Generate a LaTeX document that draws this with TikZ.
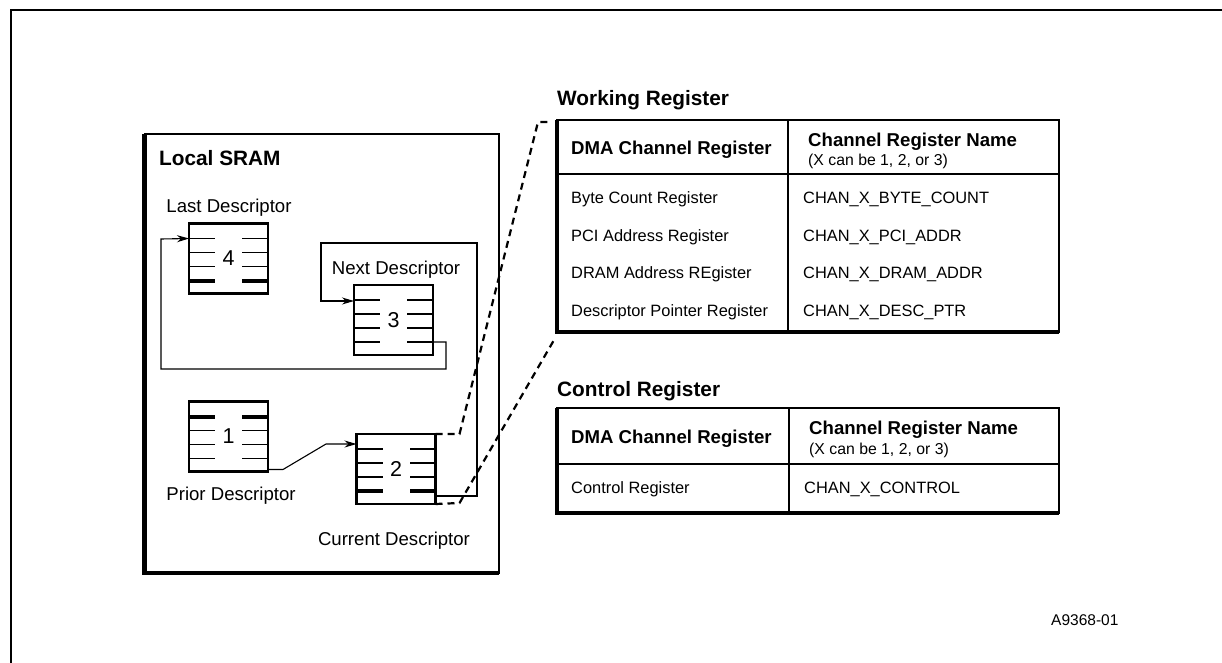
\documentclass[tikz,border=0pt]{standalone}
\usepackage{fontspec}
\setmainfont{Liberation Sans}
\usetikzlibrary{arrows.meta}
\newcommand\descrows[1]{%
  \foreach \yy in {15,29,43,57}{%
    \draw[tick] ([yshift=-\yy pt]#1.north west) -- ++(26,0)
                ([yshift=-\yy pt]#1.north east) -- ++(-26,0);}}
\newcommand\descthick[2]{%
  \draw[thicktick] ([yshift=-#2 pt]#1.north west) -- ++(26,0)
                   ([yshift=-#2 pt]#1.north east) -- ++(-26,0);}
\begin{document}
\begin{tikzpicture}[x=1pt,y=-1pt,
  frame/.style={line width=1.8pt},
  desc/.style={draw, line width=2.2pt, minimum width=79pt, minimum height=70pt,
    inner sep=0pt, outer sep=0pt, font=\fontsize{21.5}{22}\selectfont},
  tick/.style={line width=1.8pt},
  thicktick/.style={line width=4pt},
  conn/.style={line width=1.1pt},
  arr/.style={-{Stealth[length=12pt,width=7pt]}},
  zoomline/.style={line width=2.2pt, dash pattern=on 7pt off 5pt},
  lbl/.style={inner sep=0pt, font=\fontsize{18.6}{20}\selectfont},
  ttl/.style={inner sep=0pt, anchor=base west, font=\fontsize{20.8}{22}\selectfont\bfseries},
  tbl/.style={draw, line width=2pt, inner sep=0pt, outer sep=0pt, anchor=north west},
  shadowline/.style={line width=4.5pt},
  inner/.style={line width=2.2pt},
  hd/.style={inner sep=0pt, anchor=base west, font=\fontsize{18.6}{20}\selectfont\bfseries},
  hdsub/.style={inner sep=0pt, anchor=base west, font=\fontsize{15.8}{17}\selectfont},
  row/.style={inner sep=0pt, anchor=base west, font=\fontsize{16.4}{18}\selectfont},
]
\useasboundingbox (0,0) rectangle (1222,663);
% outer frame
\draw[frame] (11,663) -- (11,10) -- (1222,10);

% Local SRAM box
\node[tbl, minimum width=354.5pt, minimum height=439pt] (sram) at (144.5,134) {};
\draw[shadowline] (sram.north west) -- (sram.south west) -- (sram.south east);
\node[ttl] (sramt) at (159,166) {Local SRAM};

% descriptors
\node[desc] (d4) at (228.5,258.5) {4};
\node[desc] (d3) at (393.5,320) {3};
\node[desc] (d1) at (228.5,436.5) {1};
\node[desc] (d2) at (396,469) {2};
\descrows{d4}\descthick{d4}{57}
\descrows{d3}
\descrows{d1}\descthick{d1}{15}
\descrows{d2}\descthick{d2}{57}

\node[lbl, anchor=base] (l4) at (229,212) {Last Descriptor};
\node[lbl, anchor=base] (l3) at (396,274) {Next Descriptor};
\node[lbl, anchor=base] (l1) at (231,500.7) {Prior Descriptor};
\node[lbl, anchor=base] (l2) at (394,545) {Current Descriptor};

% pointers
\coordinate (d3out) at ([yshift=-57pt]d3.north east);
\coordinate (d4in) at ([yshift=-15pt]d4.north west);
\coordinate (d2out) at ([yshift=-62pt]d2.north east);
\coordinate (d3in) at ([yshift=-16pt]d3.north west);
\coordinate (d2in) at ([yshift=-10pt]d2.north west);
\coordinate (d1out) at ([yshift=2pt]d1.south east);
\draw[conn, arr] (d3out) -| (446,369) -| (161,239) -- (d4in);
\draw[conn, arr] (d2out) -| (477,243) -| (321,301) -- (d3in);
\draw[conn, arr] (d1out) -- ++(15,0) -- (326,444) -- (d2in);

% Working register table
\node[ttl] (wrt) at (557,106) {Working Register};
\node[tbl, minimum width=502pt, minimum height=212pt] (wr) at (557,120) {};
\draw[shadowline] (wr.north west) -- (wr.south west) -- (wr.south east);
\draw[inner] (788,120) -- (788,332);
\draw[inner] (557,174) -- (1059,174);
\node[hd] (wrh1) at (571,155) {DMA Channel Register};
\node[hd] (wrh2) at (808,146.5) {Channel Register Name};
\node[hdsub] (wrh3) at (808,166) {(X can be 1, 2, or 3)};
\node[row] (wra1) at (571,203.3) {Byte Count Register};
\node[row] (wra2) at (571,241) {PCI Address Register};
\node[row] (wra3) at (571,278.7) {DRAM Address REgister};
\node[row] (wra4) at (571,316) {Descriptor Pointer Register};
\node[row] (wrb1) at (803,203.3) {CHAN\_X\_BYTE\_COUNT};
\node[row] (wrb2) at (803,241) {CHAN\_X\_PCI\_ADDR};
\node[row] (wrb3) at (803,278.7) {CHAN\_X\_DRAM\_ADDR};
\node[row] (wrb4) at (803,316) {CHAN\_X\_DESC\_PTR};

% Control register table
\node[ttl] (crt) at (557,396) {Control Register};
\node[tbl, minimum width=502pt, minimum height=105pt] (cr) at (557,408) {};
\draw[shadowline] (cr.north west) -- (cr.south west) -- (cr.south east);
\draw[inner] (789,408) -- (789,513);
\draw[inner] (557,464) -- (1059,464);
\node[hd] (crh1) at (571,443) {DMA Channel Register};
\node[hd] (crh2) at (809,434.5) {Channel Register Name};
\node[hdsub] (crh3) at (809,454) {(X can be 1, 2, or 3)};
\node[row] (cra1) at (571,493) {Control Register};
\node[row] (crb1) at (804,493) {CHAN\_X\_CONTROL};

% zoom lines
\coordinate (wrtl) at ([xshift=-5pt,yshift=-2pt]wr.north west);
\coordinate (wrbl) at ([xshift=-3pt,yshift=-8pt]wr.south west);
\draw[zoomline] (d2.north east) -- ++(24,0) -- (538,122) -- (wrtl);
\draw[zoomline] (d2.south east) -- ++(24,-1) -- (wrbl);

\node[inner sep=0pt, anchor=base west, font=\fontsize{15.5}{17}\selectfont] (fig) at (1051,625.7) {A9368-01};
\end{tikzpicture}
\end{document}
